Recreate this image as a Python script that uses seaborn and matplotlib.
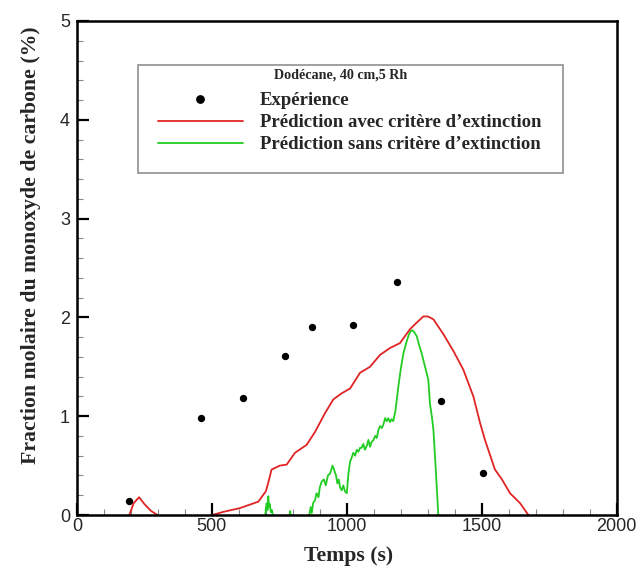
import matplotlib
matplotlib.use("Agg")
import matplotlib.pyplot as plt
import seaborn as sns
import pandas as pd
from matplotlib.ticker import MultipleLocator
from matplotlib.lines import Line2D
from matplotlib.patches import Rectangle

# --- data ---
exp_t = [191, 460, 615, 771, 871, 1023, 1186, 1349, 1506]
exp_co = [0.14, 0.98, 1.18, 1.61, 1.90, 1.92, 2.36, 1.15, 0.43]

avec_t = [194, 210, 230, 250, 275, 298, None,
          501, 540, 604, 672, 700, 712, 721, 752, 777, 808, 851, 882, 919, 950,
          980, 1012, 1049, 1086, 1123, 1160, 1197, 1234, 1260, 1284, 1300, 1321,
          1358, 1395, 1432, 1469, 1494, 1512, 1549, 1575, 1605, 1642, 1673]
avec_co = [0.0, 0.12, 0.18, 0.11, 0.04, 0.0, None,
           0.0, 0.03, 0.07, 0.135, 0.24, 0.36, 0.46, 0.50, 0.51, 0.63, 0.71, 0.84, 1.03, 1.17,
           1.23, 1.28, 1.44, 1.50, 1.62, 1.69, 1.74, 1.88, 1.95, 2.01, 2.01, 1.98,
           1.83, 1.66, 1.47, 1.20, 0.93, 0.76, 0.46, 0.36, 0.22, 0.12, 0.0]

sans_t = [698, 700, 703, 706, 709, 712, 715, 718, 722, 726, None,
          788, 790, 792, None,
          861, 866, 870, 875, 882, 888, 895, 900, 907, 915, 922, 930, 938, 947,
          955, 960, 965, 970, 975, 981, 987, 993, 1000, 1006, 1012, 1018, 1024,
          1031, 1037, 1043, 1049, 1055, 1061, 1067, 1074, 1080, 1086, 1092, 1099,
          1105, 1111, 1117, 1123, 1130, 1136, 1142, 1148, 1154, 1160, 1166, 1172,
          1180, 1191, 1200, 1210, 1220, 1228, 1236, 1243, 1250, 1259, 1268, 1277,
          1290, 1302, 1308, 1315, 1321, 1330, 1339]
sans_co = [0.0, 0.07, 0.12, 0.05, 0.19, 0.08, 0.11, 0.03, 0.05, 0.0, None,
           0.0, 0.04, 0.0, None,
           0.0, 0.08, 0.02, 0.12, 0.15, 0.22, 0.18, 0.28, 0.34, 0.36, 0.30, 0.40, 0.42, 0.50,
           0.44, 0.40, 0.32, 0.36, 0.28, 0.25, 0.30, 0.24, 0.22, 0.42, 0.54, 0.58, 0.63,
           0.60, 0.66, 0.64, 0.68, 0.68, 0.72, 0.66, 0.70, 0.76, 0.69, 0.74, 0.76,
           0.80, 0.78, 0.86, 0.90, 0.88, 0.92, 0.98, 0.95, 0.98, 0.94, 0.97, 0.95,
           1.05, 1.30, 1.48, 1.64, 1.74, 1.81, 1.86, 1.87, 1.85, 1.81, 1.72, 1.64,
           1.50, 1.37, 1.13, 1.00, 0.86, 0.45, 0.0]

legend_title = "Dodécane, 40 cm,5 Rh"
lab_exp = "Expérience"
lab_avec = "Prédiction avec critère d\u2019extinction"
lab_sans = "Prédiction sans critère d\u2019extinction"

RED = "#e02424"
GREEN = "#22cc22"

sns.set_style("white")
serif = ["Liberation Serif", "DejaVu Serif"]
sansfam = ["Liberation Sans", "DejaVu Sans"]

fig = plt.figure(figsize=(6.39, 5.67), dpi=100)
ax = fig.add_axes([0.1205, 0.0917, 0.8445, 0.8713])

df_avec = pd.DataFrame({"t": avec_t, "co": avec_co}).astype(float)
df_sans = pd.DataFrame({"t": sans_t, "co": sans_co}).astype(float)
df_exp = pd.DataFrame({"t": exp_t, "co": exp_co})


def segments(df):
    segs, cur = [], []
    for _, r in df.iterrows():
        if pd.isna(r["t"]):
            if cur:
                segs.append(pd.DataFrame(cur))
            cur = []
        else:
            cur.append(r)
    if cur:
        segs.append(pd.DataFrame(cur))
    return segs


for s in segments(df_sans):
    sns.lineplot(data=s, x="t", y="co", ax=ax, color=GREEN, lw=1.3,
                 sort=False, estimator=None, legend=False)
for s in segments(df_avec):
    sns.lineplot(data=s, x="t", y="co", ax=ax, color=RED, lw=1.3,
                 sort=False, estimator=None, legend=False)
sns.scatterplot(data=df_exp, x="t", y="co", ax=ax, color="black", s=28,
                edgecolor="black", linewidth=0, legend=False, zorder=5)

ax.set_xlim(0, 2000)
ax.set_ylim(0, 5)
ax.xaxis.set_major_locator(MultipleLocator(500))
ax.xaxis.set_minor_locator(MultipleLocator(100))
ax.yaxis.set_major_locator(MultipleLocator(1))
ax.yaxis.set_minor_locator(MultipleLocator(0.2))
ax.tick_params(which="major", direction="in", length=8.5, width=1.6, color="black",
               bottom=True, left=True, top=False, right=False, labelsize=13)
ax.tick_params(axis="x", which="major", pad=2)
ax.tick_params(axis="y", which="major", pad=5)
ax.tick_params(which="minor", direction="in", length=4.5, width=0.8, color="#888888",
               bottom=True, left=True, top=False, right=False)
for lab in ax.get_xticklabels() + ax.get_yticklabels():
    lab.set_family(sansfam)
for sp in ax.spines.values():
    sp.set_linewidth(1.8)
    sp.set_color("black")

ax.set_xlabel("Temps (s)", fontsize=15.7, fontweight="bold", family=serif)
ax.set_ylabel("Fraction molaire du monoxyde de carbone (%)", fontsize=15.7,
              fontweight="bold", family=serif)
ax.xaxis.set_label_coords(0.504, -0.062)
ax.yaxis.set_label_coords(-0.067, 0.547)

# legend box
ax.add_patch(Rectangle((0.113, 0.692), 0.788, 0.219, transform=ax.transAxes,
                       facecolor="white", edgecolor="#999999", lw=1.3, zorder=6))
ax.text(0.489, 0.891, legend_title, transform=ax.transAxes, ha="center", va="center",
        family=serif, fontweight="bold", fontsize=10.2, zorder=7)

handles = [Line2D([], [], ls="none", marker="o", ms=5.3, color="black"),
           Line2D([], [], color=RED, lw=1.3),
           Line2D([], [], color=GREEN, lw=1.3)]
leg = ax.legend(handles, [lab_exp, lab_avec, lab_sans],
                loc="upper left", bbox_to_anchor=(0.150, 0.856),
                frameon=False, handlelength=4.53, handletextpad=0.9,
                labelspacing=0.26, borderpad=0.0, borderaxespad=0.0,
                prop={"family": serif, "weight": "bold", "size": 13.5})
leg.set_zorder(8)

fig.savefig("out.png", dpi=100)
